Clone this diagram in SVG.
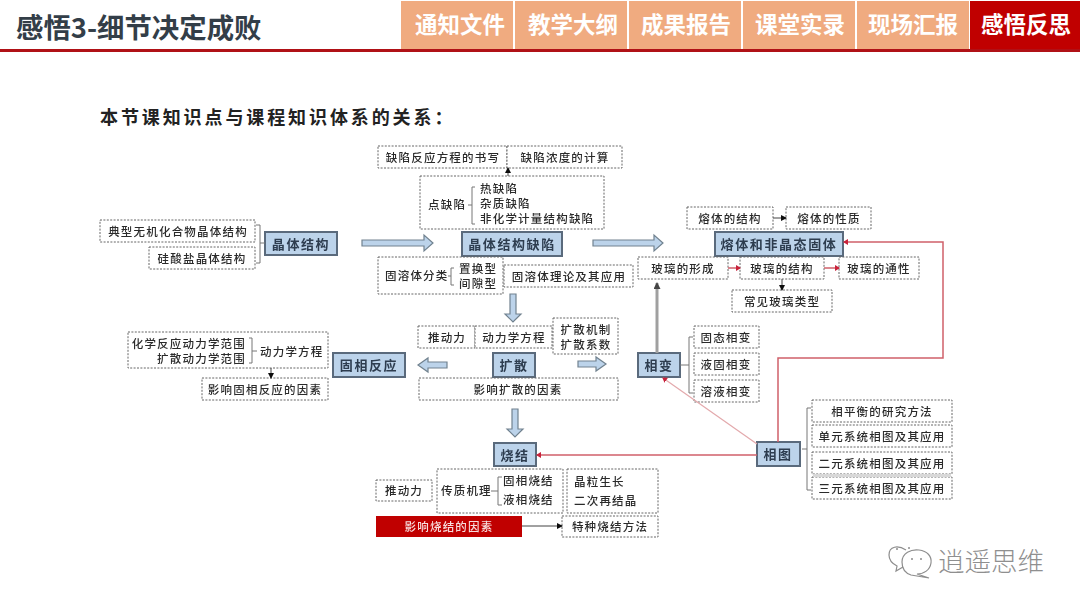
<svg xmlns="http://www.w3.org/2000/svg" width="1080" height="608" viewBox="0 0 1080 608">
<style>
text{font-family:"Noto Sans CJK SC","Noto Sans",sans-serif}
.t{font-size:11.5px;letter-spacing:1.2px;fill:#2b2b2b;font-weight:500;text-anchor:middle}
.l{text-anchor:start}
.r{text-anchor:end}
.b{fill:#fff;stroke:#666;stroke-width:1;stroke-dasharray:2 1.4}
.n{fill:#bcd3ea;stroke:#5a6b7b;stroke-width:2}
.nt{font-size:13px;letter-spacing:1.6px;font-weight:700;fill:#2d3d50;text-anchor:middle}
.tab{fill:#f0ab80}
.tabt{font-size:22.5px;font-weight:700;fill:#fff;text-anchor:middle}
.ba{fill:#bcd3ea;stroke:#71828f;stroke-width:1.2}
.k{fill:none;stroke:#777;stroke-width:1}
.c{fill:none;stroke:#444;stroke-width:1}
.red{fill:none;stroke:#d0606a;stroke-width:1.5}
.pink{fill:none;stroke:#e3a9ac;stroke-width:1.2}
.gray{fill:none;stroke:#a0a0a0;stroke-width:3}
.wm{fill:none;stroke:#8d8d8d;stroke-width:1.2}
</style>
<defs>
<filter id="soft" x="-2%" y="-2%" width="104%" height="104%"><feGaussianBlur stdDeviation="0.4"/></filter>
<marker id="ak" markerWidth="6" markerHeight="6" refX="5" refY="3" orient="auto" markerUnits="userSpaceOnUse"><path d="M0 0L6 3L0 6z" fill="#111"/></marker>
<marker id="ar" markerWidth="5" markerHeight="6" refX="4" refY="3" orient="auto" markerUnits="userSpaceOnUse"><path d="M0 0L5 3L0 6z" fill="#c8203a"/></marker>
<marker id="ag" markerWidth="7" markerHeight="7" refX="6" refY="3.5" orient="auto" markerUnits="userSpaceOnUse"><path d="M0 0L7 3.5L0 7z" fill="#444"/></marker>
</defs>
<rect width="1080" height="608" fill="#fff"/>
<g id="header">
<rect x="401" y="1" width="112" height="48" class="tab"/>
<rect x="515" y="1" width="112" height="48" class="tab"/>
<rect x="629" y="1" width="112" height="48" class="tab"/>
<rect x="743" y="1" width="112" height="48" class="tab"/>
<rect x="857" y="1" width="112" height="48" class="tab"/>
<rect x="970" y="1" width="110" height="48" fill="#c00000"/>
<rect x="0" y="49" width="1080" height="3" fill="#b01116"/>
<text x="16" y="38" font-size="27.4" font-weight="700" fill="#333e48">感悟3-细节决定成败</text>
<text x="460" y="33" class="tabt">通知文件</text>
<text x="573" y="33" class="tabt">教学大纲</text>
<text x="686" y="33" class="tabt">成果报告</text>
<text x="800" y="33" class="tabt">课堂实录</text>
<text x="913" y="33" class="tabt">现场汇报</text>
<text x="1026" y="33" class="tabt">感悟反思</text>
<text x="100" y="124" font-size="18" font-weight="700" letter-spacing="2.9" fill="#222">本节课知识点与课程知识体系的关系：</text>
</g>
<g filter="url(#soft)">
<g id="n1"><rect x="100" y="220" width="155" height="22" class="b"/><text x="178" y="236" class="t">典型无机化合物晶体结构</text></g>
<g id="n2"><rect x="149" y="247" width="106" height="22" class="b"/><text x="202" y="263" class="t">硅酸盐晶体结构</text></g>
<g id="n3"><rect x="265" y="232" width="72" height="23" class="n"/><text x="301" y="249" class="nt">晶体结构</text></g>
<g id="n4"><rect x="378" y="146" width="129" height="22" class="b"/><text x="443" y="162" class="t">缺陷反应方程的书写</text></g>
<g id="n5"><rect x="507" y="146" width="115" height="22" class="b"/><text x="565" y="162" class="t">缺陷浓度的计算</text></g>
<g id="n6"><rect x="420" y="176" width="184" height="53" class="b"/><text x="428" y="209" class="t l">点缺陷</text><text x="480" y="193" class="t l">热缺陷</text><text x="480" y="208" class="t l">杂质缺陷</text><text x="480" y="223" class="t l">非化学计量结构缺陷</text></g>
<g id="n7"><rect x="462" y="232" width="100" height="24" class="n"/><text x="512" y="249" class="nt">晶体结构缺陷</text></g>
<g id="n8"><rect x="378" y="257" width="125" height="37" class="b"/><text x="385" y="280" class="t l">固溶体分类</text><text x="459" y="273" class="t l">置换型</text><text x="459" y="288" class="t l">间隙型</text></g>
<g id="n9"><rect x="504" y="265" width="129" height="22" class="b"/><text x="569" y="281" class="t">固溶体理论及其应用</text></g>
<g id="n10"><rect x="687" y="207" width="86" height="22" class="b"/><text x="730" y="223" class="t">熔体的结构</text></g>
<g id="n11"><rect x="786" y="207" width="85" height="22" class="b"/><text x="829" y="223" class="t">熔体的性质</text></g>
<g id="n12"><rect x="715" y="232" width="128" height="24" class="n"/><text x="779" y="249" class="nt">熔体和非晶态固体</text></g>
<g id="n13"><rect x="638" y="257" width="90" height="22" class="b"/><text x="683" y="273" class="t">玻璃的形成</text></g>
<g id="n14"><rect x="740" y="257" width="84" height="22" class="b"/><text x="782" y="273" class="t">玻璃的结构</text></g>
<g id="n15"><rect x="839" y="257" width="80" height="22" class="b"/><text x="879" y="273" class="t">玻璃的通性</text></g>
<g id="n16"><rect x="732" y="290" width="100" height="22" class="b"/><text x="782" y="306" class="t">常见玻璃类型</text></g>
<g id="n17"><rect x="128" y="332" width="200" height="36" class="b"/><text x="246" y="348" class="t r">化学反应动力学范围</text><text x="246" y="363" class="t r">扩散动力学范围</text><text x="260" y="356" class="t l">动力学方程</text></g>
<g id="n18"><rect x="202" y="378" width="126" height="22" class="b"/><text x="265" y="394" class="t">影响固相反应的因素</text></g>
<g id="n19"><rect x="333" y="353" width="72" height="24" class="n"/><text x="369" y="370" class="nt">固相反应</text></g>
<g id="n20"><rect x="418" y="326" width="57" height="22" class="b"/><text x="447" y="342" class="t">推动力</text></g>
<g id="n21"><rect x="475" y="326" width="77" height="22" class="b"/><text x="514" y="342" class="t">动力学方程</text></g>
<g id="n22"><rect x="553" y="318" width="65" height="36" class="b"/><text x="586" y="334" class="t">扩散机制</text><text x="586" y="349" class="t">扩散系数</text></g>
<g id="n23"><rect x="493" y="353" width="42" height="24" class="n"/><text x="514" y="370" class="nt">扩散</text></g>
<g id="n24"><rect x="419" y="378" width="199" height="22" class="b"/><text x="518" y="394" class="t">影响扩散的因素</text></g>
<g id="n25"><rect x="494" y="443" width="42" height="23" class="n"/><text x="515" y="460" class="nt">烧结</text></g>
<g id="n26"><rect x="376" y="480" width="56" height="21" class="b"/><text x="404" y="495" class="t">推动力</text></g>
<g id="n27"><rect x="437" y="469" width="126" height="44" class="b"/><text x="441" y="495" class="t l">传质机理</text><text x="503" y="485" class="t l">固相烧结</text><text x="503" y="504" class="t l">液相烧结</text></g>
<g id="n28"><rect x="567" y="469" width="91" height="44" class="b"/><text x="574" y="486" class="t l">晶粒生长</text><text x="574" y="505" class="t l">二次再结晶</text></g>
<g id="n29"><rect x="376" y="516" width="146" height="21" fill="#c00000"/><text x="449" y="531" class="t" style="fill:#f7dcdc">影响烧结的因素</text></g>
<g id="n30"><rect x="562" y="516" width="96" height="21" class="b"/><text x="610" y="531" class="t">特种烧结方法</text></g>
<g id="n31"><rect x="638" y="353" width="42" height="24" class="n"/><text x="659" y="370" class="nt">相变</text></g>
<g id="n32"><rect x="694" y="326" width="65" height="22" class="b"/><text x="726" y="342" class="t">固态相变</text></g>
<g id="n33"><rect x="694" y="353" width="65" height="22" class="b"/><text x="726" y="369" class="t">液固相变</text></g>
<g id="n34"><rect x="694" y="380" width="65" height="22" class="b"/><text x="726" y="396" class="t">溶液相变</text></g>
<g id="n35"><rect x="757" y="442" width="43" height="24" class="n"/><text x="778" y="459" class="nt">相图</text></g>
<g id="n36"><rect x="812" y="400" width="140" height="22" class="b"/><text x="882" y="416" class="t">相平衡的研究方法</text></g>
<g id="n37"><rect x="812" y="425" width="140" height="22" class="b"/><text x="882" y="441" class="t">单元系统相图及其应用</text></g>
<g id="n38"><rect x="812" y="452" width="140" height="22" class="b"/><text x="882" y="468" class="t">二元系统相图及其应用</text></g>
<g id="n39"><rect x="812" y="477" width="140" height="22" class="b"/><text x="882" y="493" class="t">三元系统相图及其应用</text></g>
<rect x="813" y="474" width="138" height="3" fill="#d8d8d8"/>
<g id="connectors">
<path class="ba" d="M362 240H424V235L433 243L424 251V246H362Z"/>
<path class="ba" d="M593 240H654V235L663 243L654 251V246H593Z"/>
<path class="ba" d="M510 294H516V314H521L513 322L505 314H510Z"/>
<path class="ba" d="M447 362H428V358L418 365L428 372V368H447Z"/>
<path class="ba" d="M578 361H596V357L606 364L596 371V367H578Z"/>
<path class="ba" d="M512 409H518V429H523L515 437L507 429H512Z"/>
<path class="k" d="M256 225H260V263H256M260 243H265"/>
<path class="k" d="M468 205H472M475 187H472V224H475"/>
<path class="k" d="M448 276H451M454 268H451V285H454"/>
<path class="k" d="M252 351H257M249 338H252V363H249"/>
<path class="k" d="M802 449H807M811 408H807V490H811"/>
<path class="k" d="M680 365H689M693 337H689V393H693"/>
<path class="k" d="M491 491H498M502 477H498V505H502"/>
<path class="c" marker-end="url(#ak)" d="M508 176V168"/>
<path class="c" marker-end="url(#ak)" d="M773 218H786"/>
<path class="c" marker-end="url(#ak)" d="M782 279V290"/>
<path class="c" marker-end="url(#ak)" d="M271 368V378"/>
<path class="c" marker-end="url(#ak)" d="M522 526H562"/>
<path class="red" marker-end="url(#ar)" d="M728 268H740"/>
<path class="red" marker-end="url(#ar)" d="M824 268H839"/>
<path class="gray" marker-end="url(#ag)" d="M657 353V283"/>
<path class="red" marker-end="url(#ar)" d="M778 442V358H943V242H844"/>
<path class="pink" marker-end="url(#ar)" d="M757 444L663 378"/>
<path class="red" marker-end="url(#ar)" d="M757 455H537"/>
</g>
</g>
<g id="watermark">
<path class="wm" d="M906 550C898 545 889 546 889 555C889 561 893 564 897 566L896 571L903 567"/>
<path class="wm" d="M902 562C902 553 911 549 919 550C927 551 932 556 931 563C930 570 924 574 917 574L929 578L911 575C905 573 902 568 902 562Z"/>
<circle cx="897" cy="549" r="1" fill="#8d8d8d"/><circle cx="909" cy="548" r="1" fill="#8d8d8d"/><circle cx="912" cy="559" r="1" fill="#8d8d8d"/><circle cx="921" cy="559" r="1" fill="#8d8d8d"/>
<text x="938" y="571" font-size="26.5" font-weight="300" fill="#8f8f8f">逍遥思维</text>
</g>
</svg>
